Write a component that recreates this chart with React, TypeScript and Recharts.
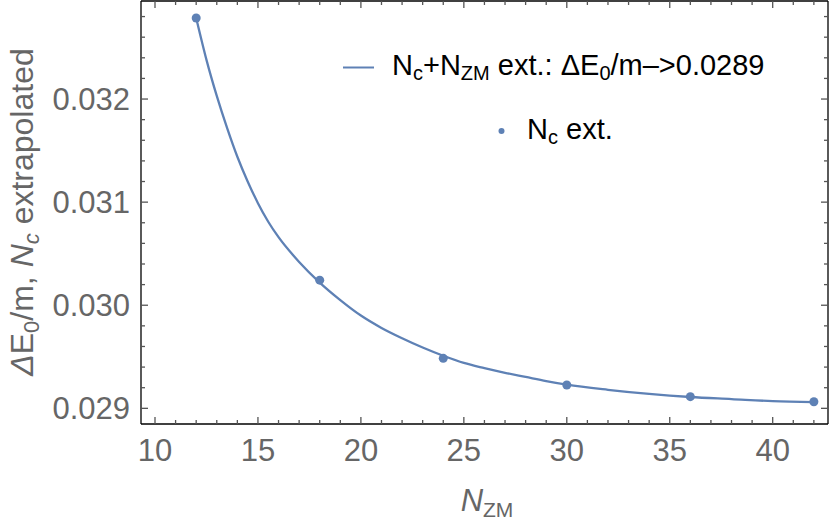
import React from 'react'
import {
  ComposedChart, Line, Scatter, XAxis, YAxis, Legend
} from 'recharts'

// fitted curve
const curveX = [12, 12.5, 13, 13.5, 14, 14.5, 15, 15.5, 16, 17, 18, 19, 20, 21, 22, 23, 24, 25, 26,
  27, 28, 29, 30, 32, 34, 36, 38, 40, 42]
const curveY = [
  0.032786, 0.03238, 0.03203, 0.03172, 0.03144, 0.03120, 0.03099, 0.03081, 0.03066, 0.03042,
  0.03022, 0.03005, 0.02990, 0.02978, 0.02968, 0.02959, 0.02951, 0.02944, 0.02939, 0.029345,
  0.029305, 0.029265, 0.02923, 0.02918, 0.02914, 0.02911, 0.02909, 0.02907, 0.02906
]

// extrapolated points
const pointX = [12, 18, 24, 30, 36, 42]
const pointY = [0.032786, 0.030243, 0.029485, 0.029226, 0.029113, 0.029064]

const xTicks = [10, 11, 12, 13, 14, 15, 16, 17, 18, 19, 20, 21, 22, 23, 24, 25, 26, 27, 28, 29, 30,
  31, 32, 33, 34, 35, 36, 37, 38, 39, 40, 41, 42]
const yTicks = [0.029, 0.0292, 0.0294, 0.0296, 0.0298, 0.030, 0.0302, 0.0304, 0.0306, 0.0308,
  0.031, 0.0312, 0.0314, 0.0316, 0.0318, 0.032, 0.0322, 0.0324, 0.0326, 0.0328]

const COLOR = '#5E81B5'
const FONT = '"Liberation Sans", Arial, sans-serif'
const TICK = '#555'
const TW = 1.3
const X_DOMAIN = [9.32, 42.686]
const Y_DOMAIN = [0.028848, 0.032951]

const curveData = curveX.map((x, i) => ({ x, y: curveY[i] }))
const pointData = pointX.map((x, i) => ({ x, y: pointY[i] }))

const isMajorX = (v: number) => v % 5 === 0
const isMajorY = (v: number) => Math.abs(v * 1000 - Math.round(v * 1000)) < 1e-6

function BottomTick(props: any) {
  const { x, y, payload } = props
  const major = isMajorX(payload.value)
  return (
    <g>
      <line x1={x} x2={x} y1={y} y2={y - (major ? 7 : 4)} stroke={TICK} strokeWidth={TW} />
      {major && (
        <text x={x} y={y + 37} textAnchor="middle" fill="#666" fontSize={31} fontFamily={FONT}>
          {payload.value}
        </text>
      )}
    </g>
  )
}

function TopTick(props: any) {
  const { x, y, payload } = props
  const major = isMajorX(payload.value)
  return <line x1={x} x2={x} y1={y} y2={y + (major ? 7 : 4)} stroke={TICK} strokeWidth={TW} />
}

function LeftTick(props: any) {
  const { x, y, payload } = props
  const major = isMajorY(payload.value)
  return (
    <g>
      <line x1={x} x2={x + (major ? 7 : 4)} y1={y} y2={y} stroke={TICK} strokeWidth={TW} />
      {major && (
        <text x={x - 11} y={y + 11} textAnchor="end" fill="#666" fontSize={31} fontFamily={FONT}>
          {payload.value.toFixed(3)}
        </text>
      )}
    </g>
  )
}

function RightTick(props: any) {
  const { x, y, payload } = props
  const major = isMajorY(payload.value)
  return <line x1={x} x2={x - (major ? 7 : 4)} y1={y} y2={y} stroke={TICK} strokeWidth={TW} />
}

function YLabel() {
  return (
    <text transform="translate(33,212) rotate(-90)" textAnchor="middle" fill="#666"
      fontSize={32} fontFamily={FONT}>
      <tspan fontStyle="italic">Δ</tspan>E<tspan fontSize={22} dy={6}>0</tspan>
      <tspan dy={-6}>/m, </tspan><tspan fontStyle="italic">N</tspan>
      <tspan fontStyle="italic" fontSize={22} dy={6}>c</tspan>
      <tspan dy={-6}> extrapolated</tspan>
    </text>
  )
}

function XLabel() {
  return (
    <text x={487} y={511} textAnchor="middle" fill="#666" fontSize={31} fontFamily={FONT}>
      <tspan fontStyle="italic">N</tspan><tspan fontSize={21} dy={6}>ZM</tspan>
    </text>
  )
}

function LegendBox() {
  return (
    <svg width={830} height={160} style={{ position: 'absolute', left: 0, top: 0, overflow: 'visible' }}>
      <line x1={343} x2={374} y1={67.5} y2={67.5} stroke={COLOR} strokeWidth={2} />
      <text x={392} y={75} fontSize={29} fontFamily={FONT} fill="#000">
        N<tspan fontSize={20} dy={5}>c</tspan><tspan dy={-5}>+N</tspan>
        <tspan fontSize={20} dy={5}>ZM</tspan>
        <tspan dy={-5}> ext.: ΔE</tspan><tspan fontSize={20} dy={5}>0</tspan>
        <tspan dy={-5}>/m–&gt;0.0289</tspan>
      </text>
      <circle cx={501.5} cy={131} r={3} fill={COLOR} />
      <text x={527} y={139} fontSize={29} fontFamily={FONT} fill="#000">
        N<tspan fontSize={20} dy={5}>c</tspan><tspan dy={-5}> ext.</tspan>
      </text>
    </svg>
  )
}

export default function App() {
  const frame = { stroke: '#000', strokeWidth: 1.3 }
  return (
    <div style={{ position: 'absolute', left: 0, top: 0, width: 830, height: 528, background: '#fff' }}>
      <ComposedChart width={830} height={528} margin={{ top: 0, right: 1, bottom: 0, left: 0 }}>
        <XAxis xAxisId="b" type="number" dataKey="x" domain={X_DOMAIN} ticks={xTicks}
          interval={0} tickSize={0} tickMargin={0} tickLine={false} height={104}
          axisLine={frame} tick={<BottomTick />} label={<XLabel />} allowDataOverflow />
        <XAxis xAxisId="t" orientation="top" type="number" dataKey="x" domain={X_DOMAIN}
          ticks={xTicks} interval={0} tickSize={0} tickMargin={0} tickLine={false} height={1}
          axisLine={frame} tick={<TopTick />} allowDataOverflow />
        <YAxis yAxisId="l" type="number" dataKey="y" domain={Y_DOMAIN} ticks={yTicks}
          interval={0} tickSize={0} tickMargin={0} tickLine={false} width={141}
          axisLine={frame} tick={<LeftTick />} label={<YLabel />} allowDataOverflow />
        <YAxis yAxisId="r" orientation="right" type="number" dataKey="y" domain={Y_DOMAIN}
          ticks={yTicks} interval={0} tickSize={0} tickMargin={0} tickLine={false} width={1}
          axisLine={frame} tick={<RightTick />} allowDataOverflow />
        <Line xAxisId="b" yAxisId="l" data={curveData} dataKey="y" type="monotone" stroke={COLOR}
          strokeWidth={2.3} dot={false} isAnimationActive={false} legendType="line"
          name="Nc+NZM ext." />
        <Scatter xAxisId="b" yAxisId="l" data={pointData} dataKey="y" fill={COLOR}
          shape={(p: any) => <circle cx={p.cx} cy={p.cy} r={4.5} fill={COLOR} />}
          isAnimationActive={false} name="Nc ext." />
        <Legend content={<LegendBox />} verticalAlign="top"
          wrapperStyle={{ position: 'absolute', left: 0, top: 0, width: 830, height: 0 }} />
      </ComposedChart>
    </div>
  )
}
